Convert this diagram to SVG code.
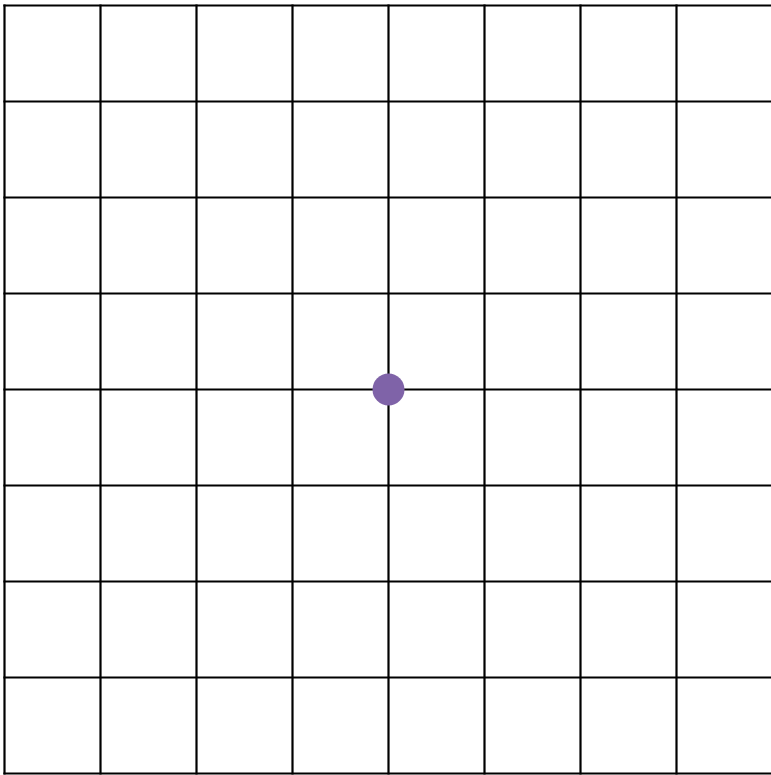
<svg xmlns="http://www.w3.org/2000/svg" width="771" height="775" viewBox="0 0 771 775">
<style>
.g line{stroke:#000;stroke-width:2.2;stroke-linecap:square}
</style>
<rect width="771" height="775" fill="#fff"/>
<g id="grid" class="g">
<line x1="4.5" y1="5.5" x2="772.5" y2="5.5"/>
<line x1="4.5" y1="101.5" x2="772.5" y2="101.5"/>
<line x1="4.5" y1="197.5" x2="772.5" y2="197.5"/>
<line x1="4.5" y1="293.5" x2="772.5" y2="293.5"/>
<line x1="4.5" y1="389.5" x2="772.5" y2="389.5"/>
<line x1="4.5" y1="485.5" x2="772.5" y2="485.5"/>
<line x1="4.5" y1="581.5" x2="772.5" y2="581.5"/>
<line x1="4.5" y1="677.5" x2="772.5" y2="677.5"/>
<line x1="4.5" y1="773.5" x2="772.5" y2="773.5"/>
<line x1="4.5" y1="5.5" x2="4.5" y2="773.5"/>
<line x1="100.5" y1="5.5" x2="100.5" y2="773.5"/>
<line x1="196.5" y1="5.5" x2="196.5" y2="773.5"/>
<line x1="292.5" y1="5.5" x2="292.5" y2="773.5"/>
<line x1="388.5" y1="5.5" x2="388.5" y2="773.5"/>
<line x1="484.5" y1="5.5" x2="484.5" y2="773.5"/>
<line x1="580.5" y1="5.5" x2="580.5" y2="773.5"/>
<line x1="676.5" y1="5.5" x2="676.5" y2="773.5"/>
</g>
<g id="dot">
<circle cx="388.5" cy="389.5" r="16" fill="#7f63a8"/>
</g>
</svg>
